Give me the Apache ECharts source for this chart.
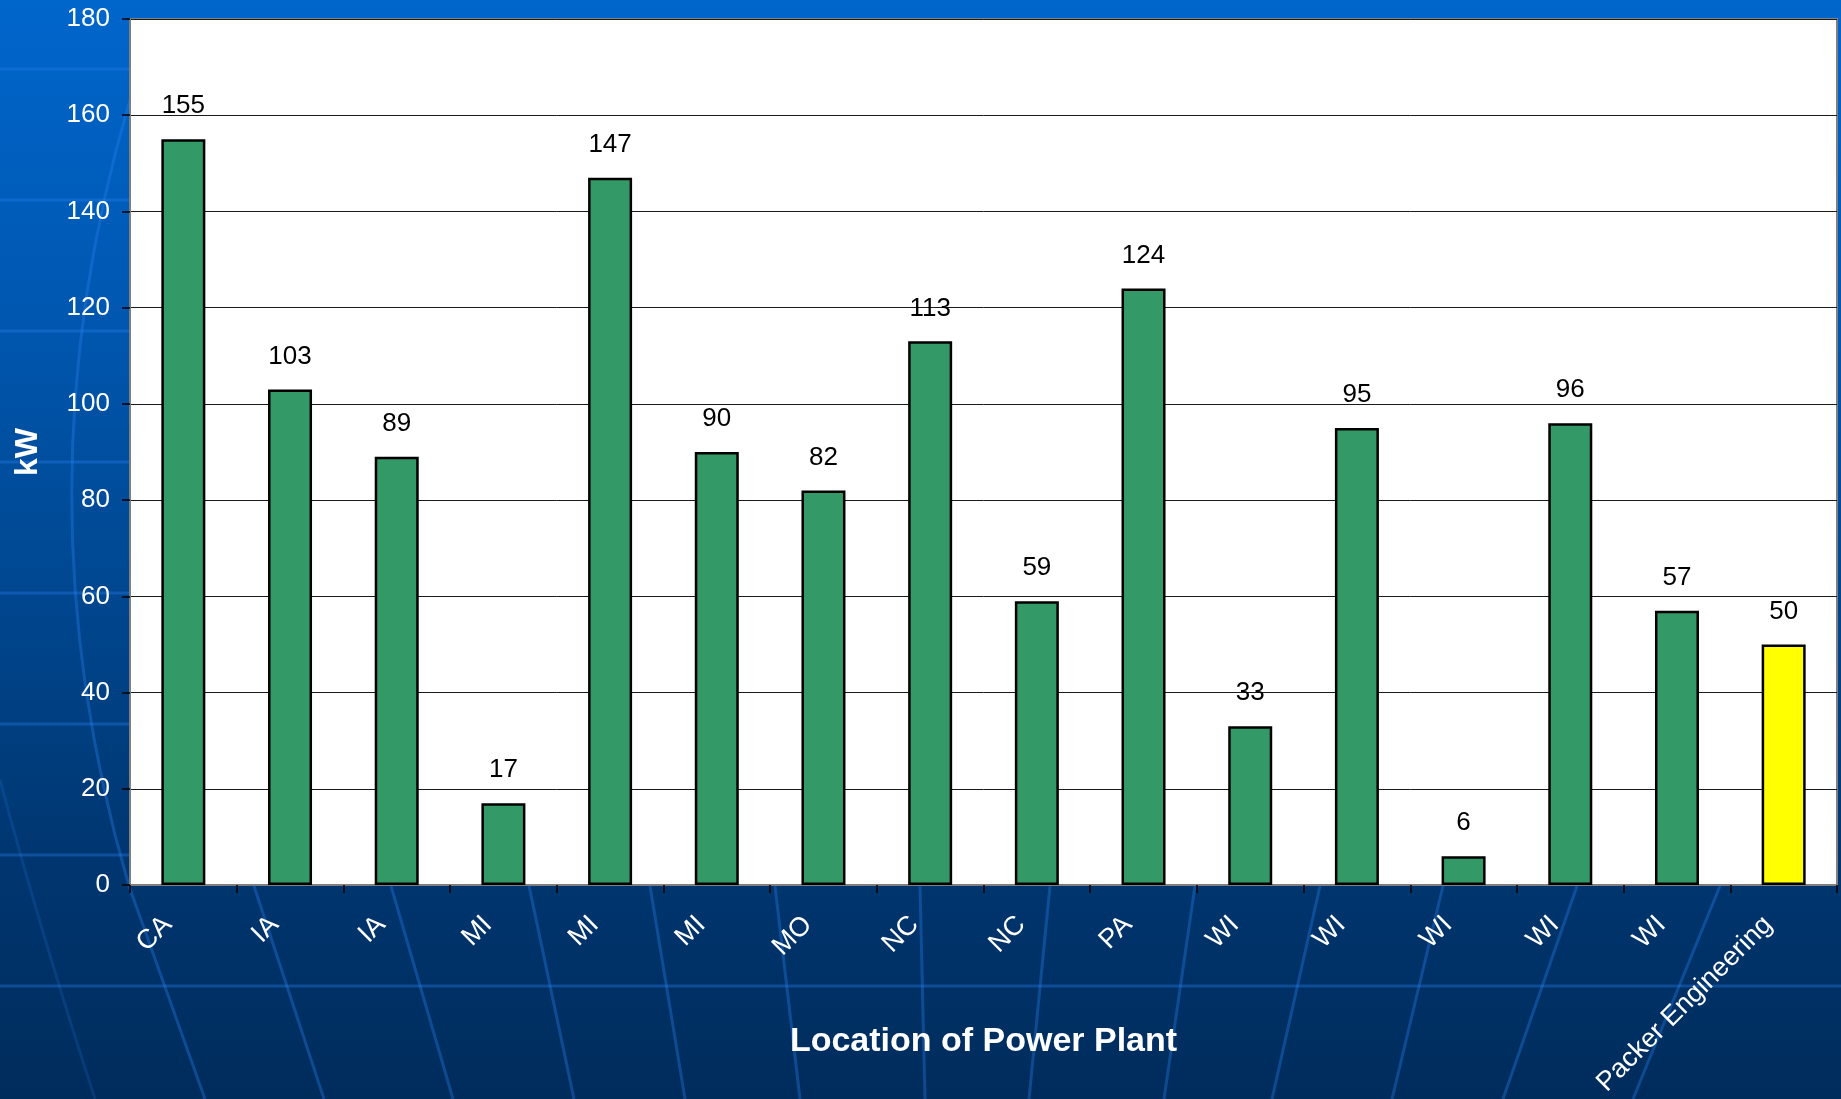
<!DOCTYPE html>
<html>
<head>
<meta charset="utf-8">
<title>kW by Location of Power Plant</title>
<script src="https://cdn.jsdelivr.net/npm/echarts@6/dist/echarts.min.js"></script>
<style>
	html, body {margin:0; padding:0; background:#00306a;}
	#chart {width:1841px; height:1099px;}
</style>
</head>
<body>
<div id="chart"></div>
<script>
var categories = ['CA', 'IA', 'IA', 'MI', 'MI', 'MI', 'MO', 'NC', 'NC', 'PA', 'WI', 'WI', 'WI', 'WI', 'WI', 'Packer Engineering']
var kw = [155, 103, 89, 17, 147, 90, 82, 113, 59, 124, 33, 95, 6, 96, 57, 50]
var highlight = 'Packer Engineering'

var FONT = '"Liberation Sans", Arial, sans-serif'

// background decoration: faint globe lines behind the chart
function decoLines() {
	var line = {stroke: 'rgba(40,130,240,0.35)', lineWidth: 3, fill: null}
	var els = []
	var rows = [69, 200, 331, 462, 593, 724, 855]
	rows.forEach(function(y){
		els.push({type: 'line', z: -1, shape: {x1: 0, y1: y, x2: 130, y2: y}, style: line})
	})
	els.push({type: 'line', z: -1, shape: {x1: 0, y1: 986, x2: 1841, y2: 986}, style: line})
	var mer = [[129, 205], [254, 324], [391, 453], [529, 574], [650, 685], [775, 800], [920, 925],
		[1050, 1029], [1195, 1164], [1320, 1272], [1443, 1392], [1577, 1503], [1720, 1633]]
	mer.forEach(function(m){
		els.push({type: 'line', z: -1, shape: {x1: m[0], y1: 886, x2: m[1], y2: 1099}, style: line})
	})
	els.push({type: 'bezierCurve', z: -1, shape: {x1: 130, y1: 100, cpx1: 14, cpy1: 493, x2: 129, y2: 886}, style: line})
	els.push({type: 'bezierCurve', z: -1, shape: {x1: 0, y1: 780, cpx1: 40, cpy1: 930, x2: 95, y2: 1099},
		style: {stroke: 'rgba(40,130,240,0.18)', lineWidth: 3, fill: null}})
	return els
}

function renderChart() {
	var myChart = echarts.init(document.getElementById('chart'))
	var option = {
		animation: false,
		backgroundColor: {
			type: 'linear', x: 0, y: 0, x2: 0, y2: 1,
			colorStops: [
				{offset: 0, color: '#0066CC'},
				{offset: 0.27, color: '#0058B2'},
				{offset: 0.55, color: '#00468E'},
				{offset: 0.78, color: '#003670'},
				{offset: 1, color: '#002C5C'}
			]
		},
		graphic: {elements: decoLines()},
		textStyle: {fontFamily: FONT},
		grid: {
			left: 130,
			right: 4,
			top: 19,
			bottom: 214,
			containLabel: false,
			outerBoundsMode: 'none',
			show: true,
			backgroundColor: '#fff',
			borderColor: '#808080',
			borderWidth: 2
		},
		xAxis: {
			type: 'category',
			data: categories,
			name: 'Location of Power Plant',
			nameLocation: 'middle',
			nameGap: 140,
			nameMoveOverlap: false,
			nameTextStyle: {color: '#fff', fontSize: 34, fontWeight: 'bold', fontFamily: FONT},
			axisLine: {lineStyle: {color: '#7f7f7f', width: 2}},
			axisTick: {show: true, length: 8, lineStyle: {color: '#000', width: 1.5}},
			axisLabel: {
				interval: 0,
				rotate: 45,
				margin: 20,
				padding: [0, 22, 0, 0],
				color: '#fff',
				fontSize: 27,
				fontFamily: FONT
			}
		},
		yAxis: {
			type: 'value',
			min: 0,
			max: 180,
			interval: 20,
			name: 'kW',
			nameLocation: 'middle',
			nameGap: 86,
			nameMoveOverlap: false,
			nameTextStyle: {color: '#fff', fontSize: 32, fontWeight: 'bold', fontFamily: FONT},
			axisLine: {show: true, lineStyle: {color: '#7f7f7f', width: 2}},
			axisTick: {show: true, length: 8, lineStyle: {color: '#000', width: 1.5}},
			axisLabel: {color: '#fff', fontSize: 26, margin: 20, fontFamily: FONT},
			splitLine: {lineStyle: {color: '#1a1a1a', width: 1}}
		},
		series: [
			{
				name: 'kW',
				type: 'bar',
				data: kw,
				barWidth: 44,
				itemStyle: {
					color: function(p){
						return p.name === highlight ? '#FFFF00' : '#339966'
					},
					borderColor: '#000',
					borderWidth: 2.5
				},
				label: {
					show: true,
					position: 'top',
					distance: 20,
					color: '#000',
					fontSize: 26,
					fontFamily: FONT
				}
			}
		]
	}
	myChart.setOption(option)
}

renderChart()
</script>
</body>
</html>
